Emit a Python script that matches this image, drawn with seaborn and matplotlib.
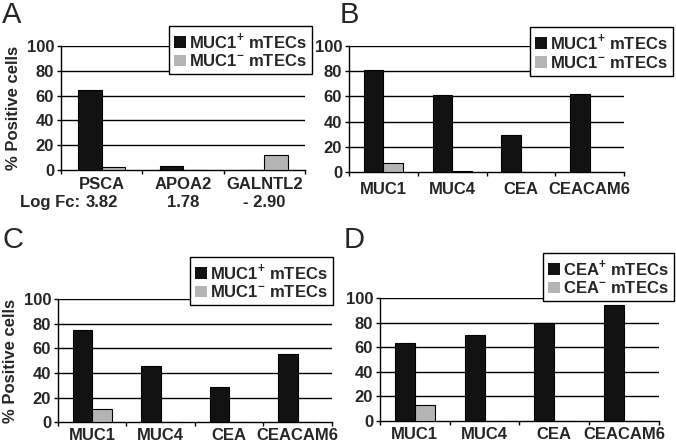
import numpy as np
import pandas as pd
import matplotlib
matplotlib.use("Agg")
import matplotlib.pyplot as plt
import seaborn as sns

# panel A
genes_a = ["PSCA", "APOA2", "GALNTL2"]
pos_a = [64.5, 3.5, 0.0]
neg_a = [2.5, 0.0, 12.0]
log_fc_a = ["3.82", "1.78", "- 2.90"]

# panels B, C, D share the same genes
genes_bcd = ["MUC1", "MUC4", "CEA", "CEACAM6"]
pos_b = [81.0, 61.0, 29.5, 62.0]
neg_b = [7.5, 1.0, 0.0, 0.0]
pos_c = [74.5, 46.0, 29.0, 55.5]
neg_c = [11.0, 0.0, 0.0, 0.0]
pos_d = [63.0, 69.5, 79.5, 94.0]
neg_d = [13.0, 0.0, 0.0, 0.0]

labels_muc1 = [r"MUC1$^{\mathbf{+}}$ mTECs", r"MUC1$^{\mathbf{-}}$ mTECs"]
labels_cea = [r"CEA$^{\mathbf{+}}$ mTECs", r"CEA$^{\mathbf{-}}$ mTECs"]
yticks = [0, 20, 40, 60, 80, 100]

BLACK = "#121212"
GRAY = "#b4b4b4"

sns.set_theme(style="white")
plt.rcParams["font.family"] = ["Liberation Sans", "DejaVu Sans"]
plt.rcParams["font.weight"] = "bold"
plt.rcParams["mathtext.fontset"] = "custom"
plt.rcParams["mathtext.rm"] = "Liberation Sans:bold"
plt.rcParams["mathtext.bf"] = "Liberation Sans:bold"


def make_frame(genes, pos, neg, labels):
    return pd.DataFrame({
        "gene": genes * 2,
        "value": pos + neg,
        "group": [labels[0]] * len(genes) + [labels[1]] * len(genes),
    })


def draw_panel(fig, rect, genes, pos, neg, labels, legend_corner, ylabel, xpad):
    ax = fig.add_axes(rect)
    df = make_frame(genes, pos, neg, labels)
    sns.barplot(data=df, x="gene", y="value", hue="group", order=genes,
                hue_order=labels, palette=[BLACK, GRAY], width=0.57,
                edgecolor="black", linewidth=0.8, ax=ax, zorder=3)
    n = len(genes)
    ax.set_xlim(-0.5, n - 0.5)
    ax.set_ylim(0, 100)
    ax.set_yticks(yticks)
    ax.set_yticklabels([str(t) for t in yticks], fontsize=12, fontweight="bold")
    for t in yticks[1:]:
        ax.axhline(t, color="black", lw=1.0, zorder=1)
    ax.set_xticks(range(n))
    ax.set_xticklabels(genes, fontsize=12, fontweight="bold")
    ax.set_xticks(np.arange(n + 1) - 0.5, minor=True)
    ax.tick_params(axis="x", which="major", length=0, pad=xpad)
    ax.tick_params(axis="x", which="minor", length=3, width=1, direction="out",
                   color="black", bottom=True)
    ax.tick_params(axis="y", length=3, width=1, direction="out", color="black",
                   left=True, pad=2)
    for side in ["top", "right"]:
        ax.spines[side].set_visible(False)
    for side in ["left", "bottom"]:
        ax.spines[side].set_color("black")
        ax.spines[side].set_linewidth(1.0)
    ax.set_xlabel("")
    if ylabel:
        ax.set_ylabel("% Positive cells", fontsize=12, fontweight="bold", labelpad=4)
    else:
        ax.set_ylabel("")
    leg = ax.legend(loc="upper right", bbox_to_anchor=legend_corner,
                    bbox_transform=fig.transFigure, frameon=True, fancybox=False,
                    edgecolor="black", framealpha=1, fontsize=12,
                    handlelength=0.7, handleheight=0.7, handletextpad=0.2,
                    labelspacing=0.15, borderpad=0.3, borderaxespad=0)
    leg.get_frame().set_linewidth(1.0)
    leg.set_zorder(10)
    for h in leg.legend_handles:
        h.set_linewidth(0)
    return ax


fig = plt.figure(figsize=(6.76, 4.45), dpi=100)

ax_a = draw_panel(fig, [0.0902, 0.618, 0.361, 0.2787], genes_a, pos_a, neg_a,
                  labels_muc1, (0.4615, 0.9416), True, 5)
ax_b = draw_panel(fig, [0.5163, 0.6135, 0.4068, 0.283], genes_bcd, pos_b, neg_b,
                  labels_muc1, (0.9956, 0.939), False, 7)
ax_c = draw_panel(fig, [0.0858, 0.0510, 0.4053, 0.2770], genes_bcd, pos_c, neg_c,
                  labels_muc1, (0.4926, 0.4225), True, 4)
ax_d = draw_panel(fig, [0.5621, 0.0540, 0.4127, 0.2764], genes_bcd, pos_d, neg_d,
                  labels_cea, (0.997, 0.4315), False, 4)

# panel letters
for letter, (lx, ly) in zip("ABCD", [(0.003, 0.997), (0.503, 0.997),
                                     (0.003, 0.492), (0.508, 0.492)]):
    fig.text(lx, ly, letter, fontsize=21, fontweight="normal", va="top", ha="left")

# log fold change row under panel A
trans = matplotlib.transforms.blended_transform_factory(ax_a.transData, ax_a.transAxes)
for i, s in enumerate(log_fc_a):
    ax_a.text(i, -0.205, s, transform=trans, ha="center", va="top",
              fontsize=12, fontweight="bold")
ax_a.text(-0.27, -0.205, "Log Fc:", transform=trans, ha="right", va="top",
          fontsize=12, fontweight="bold")

fig.savefig("out.png", dpi=100)
